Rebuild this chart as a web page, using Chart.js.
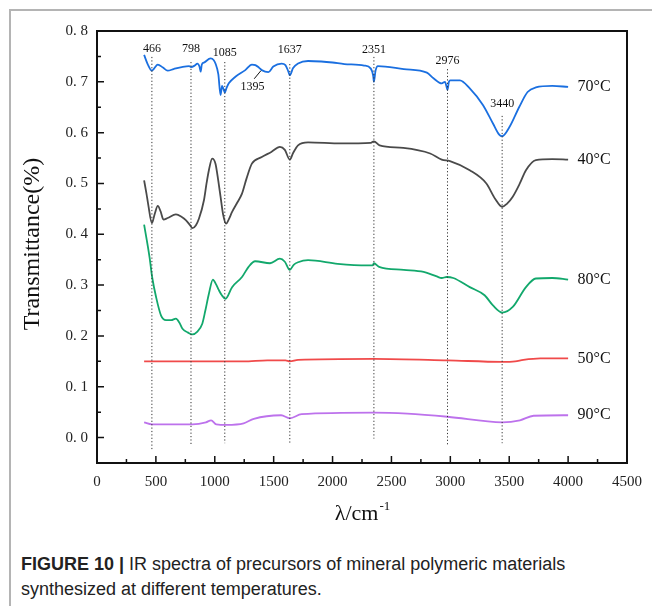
<!DOCTYPE html>
<html>
<head>
<meta charset="utf-8">
<script src="https://cdn.jsdelivr.net/npm/chart.js@4.4.1/dist/chart.umd.min.js"></script>
<style>
  body { margin: 0; background: #fff; }
  #wrap { position: relative; width: 652px; height: 606px; overflow: hidden; }
  #frame { position: absolute; left: 9px; top: 9px; right: -5px; bottom: -5px;
           border-left: 2px solid #b4b4b4; border-top: 2px solid #b4b4b4; }
  #myChart { position: absolute; left: 0; top: 0; }
  .cap { position: absolute; left: 21px; font-family: "Liberation Sans", Arial, sans-serif;
         font-size: 18px; color: #222; white-space: nowrap; }
</style>
</head>
<body>
<div id="wrap">
  <div id="frame"></div>
  <canvas id="myChart" width="652" height="540"></canvas>
  <div class="cap" style="top:554px"><b>FIGURE 10 |</b> IR spectra of precursors of mineral polymeric materials</div>
  <div class="cap" style="top:579px">synthesized at different temperatures.</div>
</div>
<script>
// series (wavenumber cm-1 / transmittance)
var wn70 = [400,430,466,516,560,600,650,720,782,798,830,852,870,880,890,910,965,990,1006,1030,1049,1062,1075,1085,1100,1119,1175,1259,1315,1345,1375,1399,1455,1497,1567,1600,1625,1637,1665,1707,1792,1904,2000,2100,2268,2325,2345,2351,2365,2385,2605,2801,2857,2927,2955,2966,2976,2988,3000,3081,3165,3278,3362,3415,3440,3502,3586,3656,3726,3866,4000]
var tr70 = [0.753,0.735,0.722,0.734,0.728,0.722,0.725,0.729,0.731,0.729,0.732,0.736,0.730,0.720,0.734,0.738,0.746,0.743,0.736,0.715,0.674,0.692,0.685,0.679,0.688,0.697,0.710,0.723,0.734,0.733,0.728,0.723,0.719,0.730,0.736,0.733,0.720,0.713,0.727,0.736,0.741,0.740,0.738,0.735,0.732,0.726,0.712,0.700,0.722,0.731,0.725,0.718,0.707,0.697,0.700,0.692,0.684,0.700,0.703,0.703,0.687,0.654,0.618,0.596,0.593,0.611,0.651,0.680,0.689,0.692,0.690]

var wn40 = [400,420,434,466,490,516,540,564,600,670,720,754,790,810,840,866,908,930,950,978,1006,1030,1049,1070,1096,1120,1147,1190,1231,1270,1315,1399,1480,1553,1595,1637,1665,1707,1792,2072,2325,2351,2400,2600,2829,2927,2997,3165,3306,3380,3440,3480,3530,3590,3642,3726,3866,4000]
var tr40 = [0.506,0.480,0.460,0.422,0.440,0.456,0.445,0.429,0.432,0.439,0.434,0.428,0.418,0.412,0.418,0.431,0.467,0.500,0.526,0.549,0.539,0.505,0.474,0.440,0.421,0.430,0.444,0.462,0.480,0.510,0.539,0.552,0.562,0.572,0.566,0.547,0.560,0.575,0.581,0.579,0.580,0.583,0.575,0.570,0.559,0.547,0.544,0.526,0.500,0.470,0.454,0.460,0.474,0.500,0.526,0.546,0.548,0.547]

var wn80 = [400,446,468,502,544,586,630,670,700,726,770,810,850,894,920,950,984,1010,1035,1060,1091,1147,1231,1287,1343,1469,1553,1595,1637,1670,1707,1792,2044,2296,2340,2351,2395,2605,2773,2885,2927,2969,3025,3165,3291,3362,3440,3530,3642,3726,3866,4000]
var tr80 = [0.419,0.355,0.316,0.276,0.240,0.231,0.231,0.234,0.226,0.214,0.207,0.203,0.208,0.224,0.250,0.283,0.311,0.302,0.290,0.280,0.273,0.296,0.316,0.336,0.347,0.343,0.352,0.346,0.330,0.340,0.345,0.349,0.342,0.339,0.339,0.343,0.336,0.330,0.326,0.317,0.314,0.316,0.314,0.296,0.280,0.260,0.246,0.257,0.296,0.313,0.314,0.311]

var wn50 = [400,1245,1447,1600,1637,1707,2351,2976,3440,3550,3620,3764,4000]
var tr50 = [0.150,0.150,0.152,0.152,0.150,0.153,0.155,0.152,0.149,0.150,0.153,0.156,0.156]

var wn90 = [400,466,810,925,969,1013,1099,1245,1331,1563,1637,1737,2351,2634,2976,3440,3591,3707,4000]
var tr90 = [0.030,0.026,0.026,0.030,0.034,0.026,0.025,0.028,0.037,0.044,0.038,0.046,0.049,0.047,0.041,0.030,0.034,0.043,0.044]

var seriesNames = ["70°C","40°C","80°C","50°C","90°C"]
var seriesColors = ["#1a6fe0","#4a4a4a","#12a86c","#f04a4a","#bd72ec"]

// marked peaks: position, top and bottom of the dotted guide
var peaks = [466,798,1085,1637,2351,2976,3440]
var peakTop = [0.749,0.739,0.739,0.735,0.749,0.725,0.633]
var peakBottom = [-0.026,-0.016,-0.011,-0.011,-0.002,-0.016,-0.011]
var peakLabelY = [0.765,0.765,0.757,0.763,0.763,0.741,0.656]

var xTicks = [0,500,1000,1500,2000,2500,3000,3500,4000,4500]
var yTicks = [0.0,0.1,0.2,0.3,0.4,0.5,0.6,0.7,0.8]

function pts(w, t){
    return w.map(function(v, i){ return {x: v, y: t[i]} })
}

var datasets = []
peaks.forEach(function(p, i){
    datasets.push({
        data: [{x: p, y: peakTop[i]}, {x: p, y: peakBottom[i]}],
        borderColor: "#333",
        borderWidth: 1,
        borderDash: [1.2, 2.2],
        pointRadius: 0
    })
})
var allW = [wn70, wn40, wn80, wn50, wn90]
var allT = [tr70, tr40, tr80, tr50, tr90]
allW.forEach(function(w, i){
    datasets.push({
        label: seriesNames[i],
        data: pts(w, allT[i]),
        borderColor: seriesColors[i],
        borderWidth: 1.8,
        pointRadius: 0,
        cubicInterpolationMode: 'monotone'
    })
})

var serif = '"Liberation Serif", "Times New Roman", serif'

var decor = {
    id: 'decor',
    afterDraw: function(chart){
        var c = chart.ctx, a = chart.chartArea
        var xs = chart.scales.x, ys = chart.scales.y
        c.save()
        c.strokeStyle = "#111"
        c.lineWidth = 1.5
        // inward ticks
        c.beginPath()
        for (var v = 0; v <= 4500; v += 250){
            var px = xs.getPixelForValue(v)
            var len = (v % 500 === 0) ? 7 : 4
            c.moveTo(px, a.bottom); c.lineTo(px, a.bottom - len)
        }
        for (var k = 0; k <= 16; k++){
            var py = ys.getPixelForValue(k * 0.05)
            var l2 = (k % 2 === 0) ? 7 : 4
            c.moveTo(a.left, py); c.lineTo(a.left + l2, py)
        }
        c.stroke()
        // frame
        c.lineWidth = 2
        c.strokeRect(a.left, a.top, a.right - a.left, a.bottom - a.top)

        // peak labels
        c.fillStyle = "#111"
        c.font = "12px " + serif
        c.textAlign = "center"
        c.textBaseline = "middle"
        peaks.forEach(function(p, i){
            c.fillText(String(p), xs.getPixelForValue(p), ys.getPixelForValue(peakLabelY[i]))
        })
        c.fillText("1395", xs.getPixelForValue(1320), ys.getPixelForValue(0.690))
        c.lineWidth = 1
        c.beginPath()
        c.moveTo(xs.getPixelForValue(1335), ys.getPixelForValue(0.706))
        c.lineTo(xs.getPixelForValue(1392), ys.getPixelForValue(0.722))
        c.stroke()

        // series names at the line ends
        c.font = "16px " + serif
        c.textAlign = "left"
        allW.forEach(function(w, i){
            var t = allT[i]
            c.fillText(seriesNames[i], xs.getPixelForValue(4080), ys.getPixelForValue(t[t.length - 1]))
        })

        // axis titles
        c.font = "24px " + serif
        c.textAlign = "center"
        c.save()
        c.translate(33, (a.top + a.bottom) / 2 - 3)
        c.rotate(-Math.PI / 2)
        c.fillText("Transmittance(%)", 0, 0)
        c.restore()

        c.font = "22px " + serif
        c.textAlign = "left"
        c.textBaseline = "alphabetic"
        var main = "λ/cm"
        var w1 = c.measureText(main).width
        c.font = "13px " + serif
        var w2 = c.measureText("-1").width
        var x0 = (a.left + a.right) / 2 - (w1 + w2) / 2
        c.font = "22px " + serif
        c.fillText(main, x0, 520)
        c.font = "13px " + serif
        c.fillText("-1", x0 + w1 + 1, 510)
        c.restore()
    }
}

var ctx = document.getElementById("myChart")
var myChart = new Chart(ctx, {
    type: 'line',
    data: { datasets: datasets },
    plugins: [decor],
    options: {
        responsive: false,
        animation: false,
        layout: { padding: { top: 31, right: 20, bottom: 47, left: 0 } },
        plugins: { legend: { display: false }, tooltip: { enabled: false } },
        scales: {
            x: {
                type: 'linear', min: 0, max: 4500,
                grid: { display: false, drawTicks: false },
                border: { display: false },
                afterBuildTicks: function(s){ s.ticks = xTicks.map(function(v){ return {value: v} }) },
                afterFit: function(s){ s.height = 30 },
                ticks: { padding: 10, color: "#222", font: { family: serif, size: 15 }, maxRotation: 0,
                         callback: function(v){ return String(v) } }
            },
            y: {
                type: 'linear', min: -0.05, max: 0.8,
                grid: { display: false, drawTicks: false },
                border: { display: false },
                afterBuildTicks: function(s){ s.ticks = yTicks.map(function(v){ return {value: v} }) },
                afterFit: function(s){ s.width = 97 },
                ticks: { padding: 9, color: "#222", font: { family: serif, size: 15 },
                         callback: function(v){ return v.toFixed(1).replace('.', '. ') } }
            }
        }
    }
})
</script>
</body>
</html>
